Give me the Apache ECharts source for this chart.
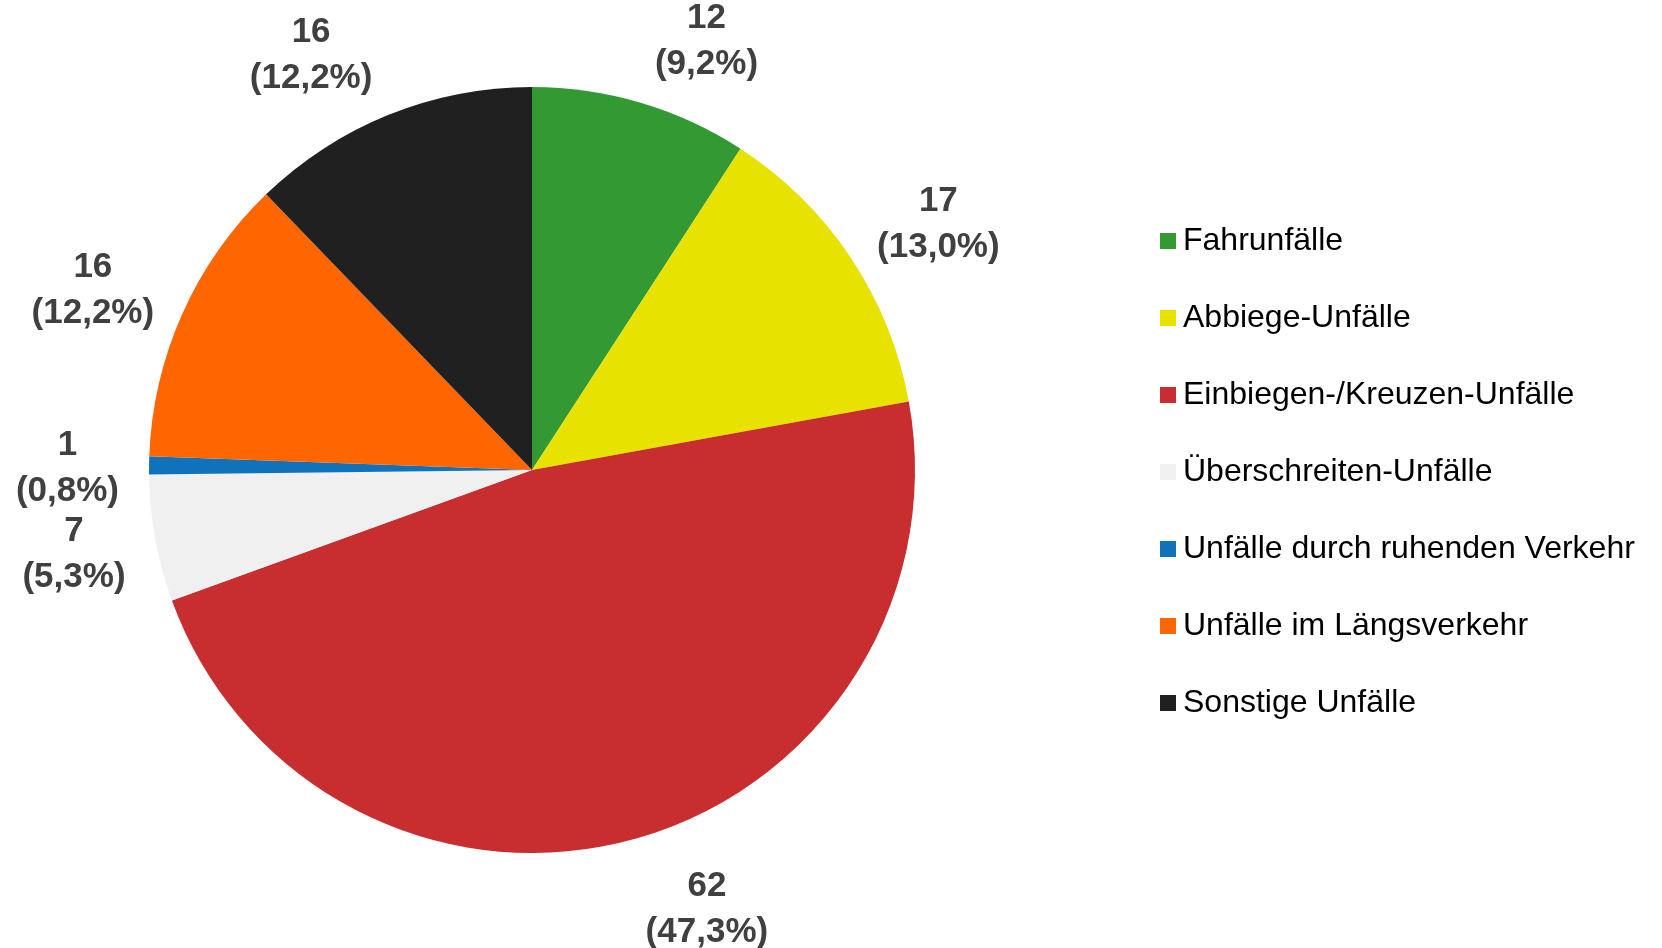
<!DOCTYPE html>
<html>
<head>
<meta charset="utf-8">
<script src="https://cdn.jsdelivr.net/npm/echarts@6/dist/echarts.min.js"></script>
<style>
html,body{margin:0;padding:0;background:#fff;}
#chart{width:1662px;height:948px;}
</style>
</head>
<body>
<div id="chart"></div>
<script>
const categories = ['Fahrunfälle', 'Abbiege-Unfälle', 'Einbiegen-/Kreuzen-Unfälle', 'Überschreiten-Unfälle', 'Unfälle durch ruhenden Verkehr', 'Unfälle im Längsverkehr', 'Sonstige Unfälle'];
const values = [12, 17, 62, 7, 1, 16, 16];
const percentLabels = ['9,2%', '13,0%', '47,3%', '5,3%', '0,8%', '12,2%', '12,2%'];
const colors = ['#339933', '#E8E200', '#C82D2F', '#F0F0F0', '#1072BA', '#FF6600', '#202020'];

// layout settings
const CX = 532, CY = 470, R = 383, GAP = 22;

const total = values.reduce((a, b) => a + b, 0);
const midAngles = [];
let cum = 0;
values.forEach(v => { midAngles.push((cum + v / 2) / total * 2 * Math.PI); cum += v; });

const data = categories.map((c, i) => ({ name: c, value: values[i] }));

const chart = echarts.init(document.getElementById('chart'), null, { renderer: 'canvas' });
chart.setOption({
  backgroundColor: '#ffffff',
  animation: false,
  color: colors,
  legend: {
    orient: 'vertical',
    left: 1155,
    top: 220,
    itemWidth: 16,
    itemHeight: 16,
    itemGap: 45,
    icon: 'rect',
    selectedMode: false,
    textStyle: {
      fontFamily: 'Liberation Sans, Arial, sans-serif',
      fontSize: 32,
      color: '#000000',
      lineHeight: 31,
      padding: [0, 0, 0, 2]
    },
    data: categories
  },
  series: [
    {
      type: 'pie',
      center: [CX, CY],
      radius: [0, R],
      startAngle: 90,
      clockwise: true,
      silent: true,
      avoidLabelOverlap: false,
      itemStyle: { borderWidth: 0 },
      labelLine: { show: false },
      label: {
        show: true,
        position: 'outside',
        fontFamily: 'Liberation Sans, Arial, sans-serif',
        fontWeight: 'bold',
        fontSize: 35,
        lineHeight: 46,
        color: '#404040',
        align: 'center',
        formatter: p => p.value + '\n(' + percentLabels[p.dataIndex] + ')'
      },
      labelLayout: function (params) {
        const t = midAngles[params.dataIndex];
        const s = Math.sin(t), c = Math.cos(t);
        const w = params.labelRect.width, h = params.labelRect.height;
        const px = CX + (R + GAP) * s;
        const py = CY - (R + GAP) * c;
        const sx = Math.abs(s) < 1e-6 ? 0 : (s > 0 ? 1 : -1);
        return {
          x: px + sx * (w / 2 + 8),
          y: py - c * h / 2 + 4,
          align: 'center',
          verticalAlign: 'middle'
        };
      },
      data: data
    }
  ]
});
</script>
</body>
</html>
